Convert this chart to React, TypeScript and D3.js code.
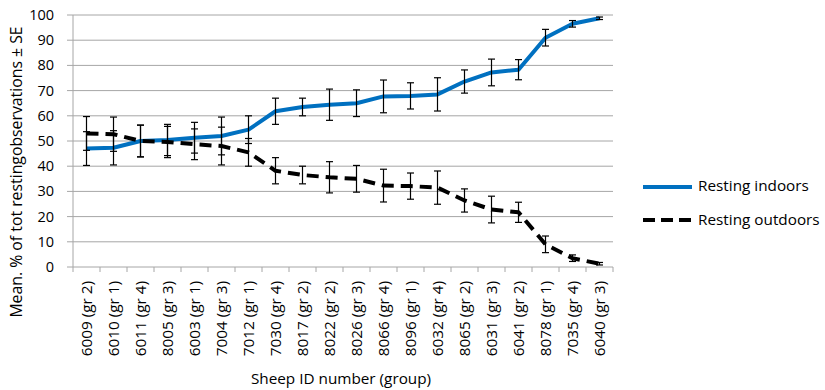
import React from "react";
import * as d3 from "d3";

const categories = [
  "6009 (gr 2)", "6010 (gr 1)", "6011 (gr 4)", "8005 (gr 3)", "6003 (gr 1)",
  "7004 (gr 3)", "7012 (gr 1)", "7030 (gr 4)", "8017 (gr 2)", "8022 (gr 2)",
  "8026 (gr 3)", "8066 (gr 4)", "8096 (gr 1)", "6032 (gr 4)", "8065 (gr 2)",
  "6031 (gr 3)", "6041 (gr 2)", "8078 (gr 1)", "7035 (gr 4)", "6040 (gr 3)",
];
const indoors = [47.0, 47.3, 50.0, 50.4, 51.3, 52.0, 54.5, 61.8, 63.5, 64.4, 65.0, 67.7, 67.9, 68.5, 73.6, 77.2, 78.3, 91.0, 96.5, 98.7];
const outdoors = [53.0, 52.7, 50.0, 49.6, 48.7, 48.0, 45.5, 38.2, 36.5, 35.6, 35.0, 32.3, 32.1, 31.5, 26.4, 22.8, 21.7, 9.0, 3.5, 1.3];
const se = [6.7, 6.8, 6.3, 6.2, 6.1, 7.5, 5.5, 5.2, 3.5, 6.2, 5.3, 6.5, 5.2, 6.6, 4.6, 5.3, 4.0, 3.3, 1.3, 0.5];
const yTicks = [0, 10, 20, 30, 40, 50, 60, 70, 80, 90, 100];
const seriesNames = ["Resting indoors", "Resting outdoors"];
const yTitle = "Mean. % of tot restingobservations ± SE";
const xTitle = "Sheep ID number (group)";

const W = 825, H = 390;
const left = 73, right = 613, top = 15, bottom = 267;
const FONT = "'Open Sans', sans-serif";
const BLUE = "#0070C0";

export default function App() {
  const x = d3.scaleBand<string>().domain(categories).range([left, right]).paddingInner(0).paddingOuter(0);
  const y = d3.scaleLinear().domain([0, 100]).range([bottom, top]);
  const cx = (i: number) => (x(categories[i]) as number) + x.bandwidth() / 2;
  const line = d3.line<number>().x((_, i) => cx(i)).y((d) => y(d));

  const errorBars = (vals: number[], key: string) =>
    vals.map((v, i) => {
      const xc = cx(i);
      const y1 = y(v + se[i]);
      const y2 = y(v - se[i]);
      return (
        <g key={key + i} stroke="#000" strokeWidth={1.2}>
          <line x1={xc} x2={xc} y1={y1} y2={y2} />
          <line x1={xc - 3.5} x2={xc + 3.5} y1={y1} y2={y1} />
          <line x1={xc - 3.5} x2={xc + 3.5} y1={y2} y2={y2} />
        </g>
      );
    });

  const boundaries = d3.range(categories.length + 1).map((i) => left + i * x.bandwidth());

  return (
    <svg width={W} height={H} style={{ position: "absolute", left: 0, top: 0, background: "#fff" }} fontFamily={FONT}>
      {yTicks.map((t) => (
        <line key={"g" + t} x1={left - 6} x2={right} y1={y(t)} y2={y(t)} stroke="#A6A6A6" strokeWidth={1} />
      ))}
      <line x1={left} x2={left} y1={top} y2={bottom} stroke="#A6A6A6" strokeWidth={1} />
      {boundaries.map((bx, i) => (
        <line key={"xt" + i} x1={bx} x2={bx} y1={bottom} y2={bottom + 5} stroke="#A6A6A6" strokeWidth={1} />
      ))}
      {yTicks.map((t) => (
        <text key={"yl" + t} x={54} y={y(t)} dy="0.35em" textAnchor="end" fontSize={14.5} fill="#000">
          {t}
        </text>
      ))}
      {categories.map((c, i) => (
        <text
          key={"xl" + i}
          transform={`translate(${cx(i)},${bottom + 14}) rotate(-90)`}
          textAnchor="end"
          dy="0.35em"
          fontSize={15.3}
          fill="#000"
        >
          {c}
        </text>
      ))}
      <path d={line(indoors) as string} fill="none" stroke={BLUE} strokeWidth={4} strokeLinejoin="round" />
      {errorBars(indoors, "ei")}
      <path d={line(outdoors) as string} fill="none" stroke="#000" strokeWidth={4} strokeDasharray="12,7" strokeLinejoin="round" />
      {errorBars(outdoors, "eo")}
      <text transform={`translate(22,172) rotate(-90)`} textAnchor="middle" fontSize={15.8} fill="#000">
        {yTitle}
      </text>
      <text x={341} y={384} textAnchor="middle" fontSize={15.3} fill="#000">
        {xTitle}
      </text>
      <line x1={643} x2={692} y1={187} y2={187} stroke={BLUE} strokeWidth={4} />
      <text x={698} y={186} dy="0.35em" fontSize={15.3} fill="#000">{seriesNames[0]}</text>
      <line x1={643} x2={692} y1={220} y2={220} stroke="#000" strokeWidth={4} strokeDasharray="12,6" />
      <text x={698} y={220} dy="0.35em" fontSize={15.3} fill="#000">{seriesNames[1]}</text>
    </svg>
  );
}
